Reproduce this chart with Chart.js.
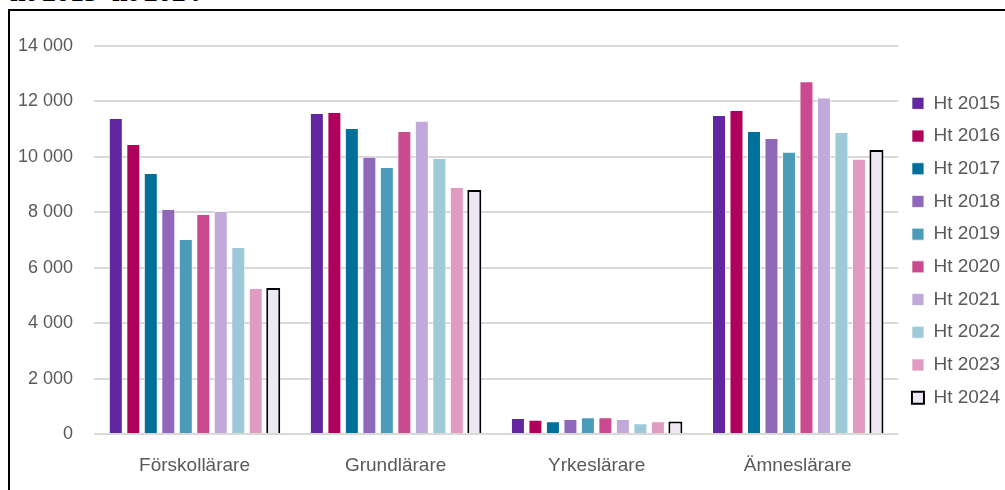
<!DOCTYPE html>
<html>
<head>
<meta charset="utf-8">
<script src="https://cdn.jsdelivr.net/npm/chart.js@4"></script>
<style>
  html, body { margin: 0; padding: 0; background: #fff; overflow: hidden; }
  #wrap { position: relative; width: 1005px; height: 490px; }
  #title { position: absolute; left: 10px; top: -24px; font: bold 28px "Liberation Serif", serif; color: #000; white-space: nowrap; }
  #frame { position: absolute; left: 8px; top: 9px; width: 1100px; height: 600px; border: 2px solid #000; box-sizing: border-box; }
  #chart { position: absolute; left: 0; top: 0; }
</style>
</head>
<body>
<div id="wrap">
  <div id="title">ht 2015–ht 2024</div>
  <div id="frame"></div>
  <canvas id="chart" width="1005" height="490"></canvas>
</div>
<script>
// kategorier och år
const categories = ['Förskollärare', 'Grundlärare', 'Yrkeslärare', 'Ämneslärare'];
const years = ['Ht 2015', 'Ht 2016', 'Ht 2017', 'Ht 2018', 'Ht 2019', 'Ht 2020', 'Ht 2021', 'Ht 2022', 'Ht 2023', 'Ht 2024'];

// värden per år (Förskollärare, Grundlärare, Yrkeslärare, Ämneslärare)
const ht2015 = [11400, 11580, 580, 11510];
const ht2016 = [10460, 11620, 510, 11690];
const ht2017 = [9420, 11040, 460, 10930];
const ht2018 = [8120, 10000, 540, 10680];
const ht2019 = [7040, 9630, 600, 10180];
const ht2020 = [7940, 10930, 600, 12730];
const ht2021 = [8050, 11300, 540, 12140];
const ht2022 = [6750, 9960, 390, 10900];
const ht2023 = [5270, 8910, 460, 9930];
const ht2024 = [5270, 8800, 450, 10250];

const yTicks = [0, 2000, 4000, 6000, 8000, 10000, 12000, 14000];

const series = [ht2015, ht2016, ht2017, ht2018, ht2019, ht2020, ht2021, ht2022, ht2023, ht2024];
const colors = ['#6227A0', '#B0005E', '#00709A', '#9068BA', '#4B9BBA', '#C94A8E', '#C1A9DA', '#9DC9D9', '#E19BC1', '#EEE8F5'];

const datasets = series.map((vals, i) => ({
  label: years[i],
  data: vals,
  backgroundColor: colors[i],
  borderColor: i === 9 ? '#000000' : 'rgba(255,255,255,0.7)',
  borderWidth: i === 9 ? 2 : 1,
  categoryPercentage: 0.87,
  barPercentage: 0.8,
}));

const ctx = document.getElementById('chart').getContext('2d');
new Chart(ctx, {
  type: 'bar',
  data: { labels: categories, datasets: datasets },
  options: {
    responsive: false,
    animation: false,
    layout: { padding: { top: 46, bottom: 15, left: 10, right: -5 } },
    plugins: {
      tooltip: { enabled: false },
      legend: {
        position: 'right',
        fullSize: false,
        title: { display: true, text: '', font: { size: 10 }, padding: { top: 0, bottom: 9 } },
        labels: {
          boxWidth: 12,
          boxHeight: 12,
          padding: 13.7,
          color: '#595959',
          font: { family: 'Liberation Sans', size: 19 },
        },
      },
    },
    scales: {
      x: {
        afterFit: s => { s.height = 41; },
        grid: { display: false, drawTicks: false },
        border: { display: false },
        ticks: { color: '#595959', padding: 20, font: { family: 'Liberation Sans', size: 19 } },
      },
      y: {
        min: 0,
        max: 14000,
        afterBuildTicks: s => { s.ticks = yTicks.map(v => ({ value: v })); },
        afterFit: s => { s.width = 84; },
        grid: { color: '#D9D9D9', lineWidth: 2, drawTicks: false },
        border: { display: false },
        ticks: {
          color: '#595959',
          padding: 21,
          font: { family: 'Liberation Sans', size: 18 },
          callback: v => String(v).replace(/\B(?=(\d{3})+(?!\d))/g, ' '),
        },
      },
    },
  },
});
</script>
</body>
</html>
